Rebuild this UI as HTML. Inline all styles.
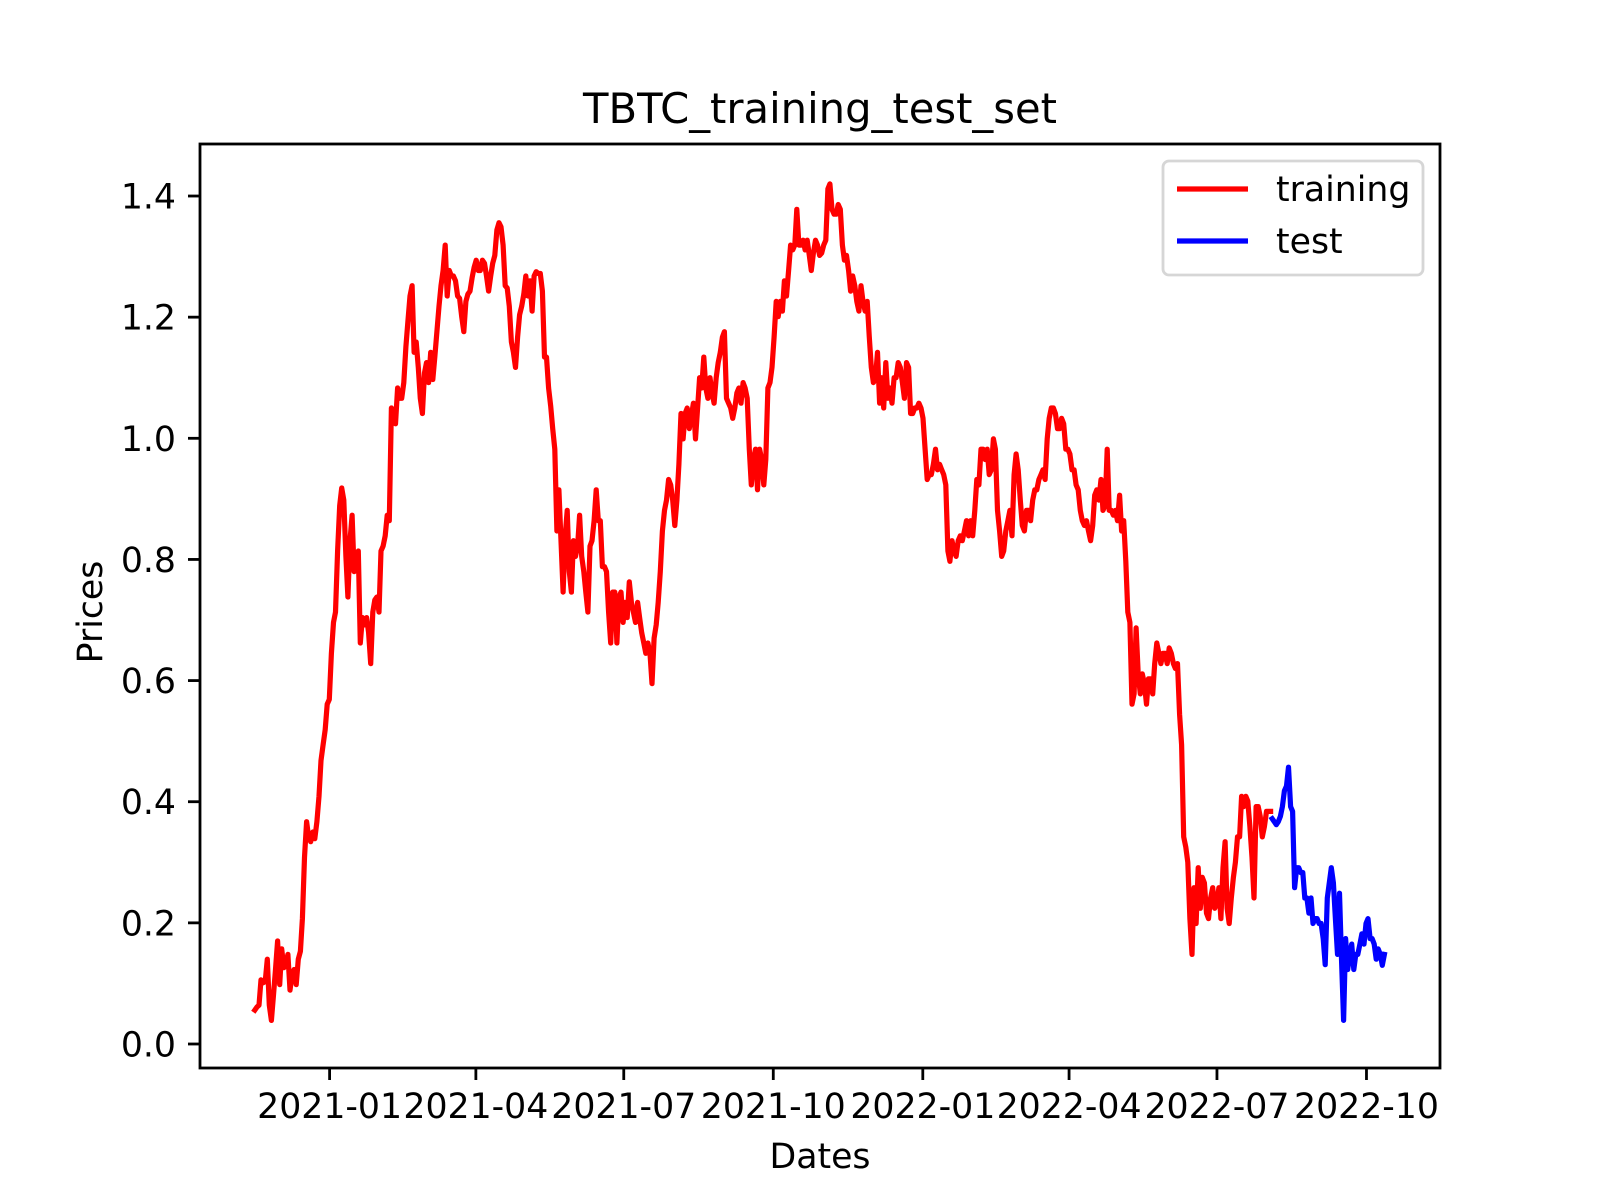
<!DOCTYPE html>
<html><head><meta charset="utf-8"><style>
html,body{margin:0;padding:0;background:#fff;}
svg{display:block;font-family:"DejaVu Sans","Liberation Sans",sans-serif;}
</style></head><body>
<svg id="chart" width="1600" height="1200" viewBox="0 0 1600 1200" xmlns="http://www.w3.org/2000/svg">
<rect width="1600" height="1200" fill="#fff"/>
<text x="820" y="123" font-size="41.7" text-anchor="middle">TBTC_training_test_set</text>
<text x="820" y="1168" font-size="34.7" text-anchor="middle">Dates</text>
<text x="0" y="0" font-size="34.7" text-anchor="middle" transform="translate(102,612) rotate(-90)">Prices</text>
<g id="plot"></g>
<rect x="200" y="144" width="1240" height="924" fill="none" stroke="#000" stroke-width="2.8"/>
<g id="legend">
<rect x="1163" y="161" width="260" height="114" rx="6" fill="#fff" fill-opacity="0.8" stroke="#d6d6d6" stroke-width="2.8"/>
<line x1="1177" y1="189" x2="1248" y2="189" stroke="#ff0000" stroke-width="5.2"/>
<text x="1276" y="201" font-size="34.7">training</text>
<line x1="1177" y1="241" x2="1248" y2="241" stroke="#0000ff" stroke-width="5.2"/>
<text x="1276" y="253" font-size="34.7">test</text>
</g>
</svg>
<script>
const trainStart = "2020-11-16";
const trainEnd = "2022-08-03";
const testStart = "2022-08-04";
const testEnd = "2022-10-12";
const trainValues = [
.056,.061,.064,.106,.101,.103,.140,.064,.039,.081,.123,.170,.098,.157,.126,.131,.148,.089,.115,.123,.098,.140,.153,.207,.308,.367,.342,.334,.350,.339,.367,.409,.468,.494,.519,.561,.569,.645,.696,.713,.814,.889,.918,.898,.805,.738,.831,.873,.780,.797,.814,.662,.704,.692,.704,.679,.628,.713,.733,.738,.713,.814,.822,.839,.873,.864,1.050,1.033,1.024,1.083,1.066,1.066,1.092,1.151,1.193,1.235,1.252,
1.142,1.159,1.117,1.066,1.041,1.108,1.125,1.092,1.142,1.097,1.134,1.176,1.218,1.252,1.277,1.319,1.235,1.277,1.268,1.268,1.260,1.235,1.231,1.201,1.176,1.226,1.238,1.243,1.265,1.282,1.294,1.277,1.277,1.294,1.289,1.268,1.243,1.268,1.289,1.302,1.344,1.356,1.349,1.319,1.252,1.248,1.218,1.159,1.142,1.117,1.167,1.204,1.218,1.238,1.268,1.235,1.260,1.210,1.268,1.275,1.272,1.272,1.243,1.134,1.134,1.083,1.053,1.016,
.982,.847,.915,.831,.746,.839,.881,.780,.746,.831,.805,.822,.873,.805,.780,.746,.713,.822,.831,.864,.915,.864,.864,.788,.788,.780,.713,.662,.746,.746,.662,.738,.746,.696,.729,.704,.763,.729,.713,.696,.729,.704,.679,.662,.645,.662,.645,.595,.670,.692,.729,.780,.847,.881,.898,.932,.923,.898,.856,.898,.957,1.041,.999,1.041,1.050,1.016,1.036,1.058,.999,1.050,1.100,1.083,1.134,1.083,1.066,1.100,1.075,1.058,1.100,1.125,1.142,1.167,1.176,1.066,1.058,1.050,1.033,1.050,1.075,1.083,1.058,1.092,1.083,1.066,.982,.923,.965,.982,.915,.982,.965,.923,.965,1.083,1.092,1.117,1.167,1.226,1.201,1.226,1.210,1.260,1.235,1.277,1.319,1.311,1.319,1.378,1.319,1.319,1.327,1.311,1.327,1.302,1.277,1.306,1.327,1.319,1.302,1.306,1.319,1.327,1.412,1.420,1.378,1.370,1.370,1.386,1.378,1.319,1.294,1.302,1.277,1.243,1.268,1.252,1.226,1.210,1.252,1.226,1.210,1.226,1.167,1.117,1.092,1.100,1.142,1.058,1.100,1.050,1.125,1.066,1.083,1.058,1.100,1.100,1.125,1.117,1.092,1.066,1.125,1.117,1.041,1.041,1.050,1.050,1.058,1.050,1.033,.982,.932,.940,.940,.957,.982,.948,.957,.948,.940,.923,.814,.797,.831,.814,.805,.831,.839,.831,.847,.864,.839,.864,.839,.881,.932,.923,.982,.982,.965,.982,.940,.948,.999,.982,.881,.847,.805,.814,.847,.864,.881,.839,.940,.974,.948,.898,.856,.847,.881,.881,.864,.898,.915,.915,.932,.940,.948,.932,.999,1.033,1.050,1.050,1.041,1.016,1.016,1.033,1.024,.982,.982,.974,.948,.948,.923,.915,.881,.864,.856,.864,.847,.831,.856,.906,.915,.898,.932,.881,.889,.982,.881,.881,.873,.881,.864,.906,.847,.864,.797,.713,.696,.561,.578,.687,.611,.578,.611,.595,.561,.603,.603,.578,.628,.662,.645,.628,.645,.645,.628,.654,.645,.628,.620,.628,.544,.494,.342,.325,.300,.207,.148,.258,.199,.291,.224,.275,.266,.216,.207,.241,.258,.224,.232,.258,.207,.291,.334,.224,.199,.241,.275,.300,.342,.342,.409,.392,.409,.401,.359,.308,.241,.392,.392,.376,.342,.359,.384,.384,.384
];
const testValues = [
.372,.367,.362,.367,.376,.392,.418,.426,.457,.392,.384,.258,.291,.291,.283,.283,.241,.241,.216,.241,.199,.207,.207,.199,.199,.174,.131,.241,.266,.291,.266,.207,.148,.249,.140,.039,.174,.123,.148,.165,.123,.148,.148,.165,.182,.165,.199,.207,.174,.174,.165,.140,.157,.148,.130,.148
];
const xTickLabels = ["2021-01","2021-04","2021-07","2021-10","2022-01","2022-04","2022-07","2022-10"];
const yTickValues = [0.0,0.2,0.4,0.6,0.8,1.0,1.2,1.4];

const NS = "http://www.w3.org/2000/svg";
const DAY = 86400000;
const origin = Date.UTC(2021,0,1);
function toDay(s){const p=s.split("-").map(Number);return (Date.UTC(p[0],p[1]-1,p[2]||1)-origin)/DAY;}
function xScale(day){return 329.6 + day*1.6252;}
function yScale(v){return 1044 - v*605.7;}
const plot = document.getElementById("plot");
const svg = document.getElementById("chart");

function drawSeries(values,start,end,color,name){
  const d0=toDay(start), d1=toDay(end);
  const step=(d1-d0)/(values.length-1);
  const pts=values.map((v,i)=>xScale(d0+i*step).toFixed(1)+","+yScale(v).toFixed(1)).join(" ");
  const pl=document.createElementNS(NS,"polyline");
  pl.setAttribute("points",pts);
  pl.setAttribute("fill","none");
  pl.setAttribute("stroke",color);
  pl.setAttribute("stroke-width","5.2");
  pl.setAttribute("stroke-linejoin","round");
  pl.setAttribute("stroke-linecap","square");
  
  
  plot.appendChild(pl);
}
drawSeries(trainValues,trainStart,trainEnd,"#ff0000","training-line");
drawSeries(testValues,testStart,testEnd,"#0000ff","test-line");

yTickValues.forEach(v=>{
  const y=yScale(v);
  const t=document.createElementNS(NS,"line");
  t.setAttribute("x1",188);t.setAttribute("x2",200);t.setAttribute("y1",y);t.setAttribute("y2",y);
  t.setAttribute("stroke","#000");t.setAttribute("stroke-width","2.8");
  
  
  svg.appendChild(t);
  const l=document.createElementNS(NS,"text");
  l.setAttribute("x",176);l.setAttribute("y",y+12.5);
  l.setAttribute("text-anchor","end");l.setAttribute("font-size","34.7");
  l.textContent=v.toFixed(1);
  
  
  svg.appendChild(l);
});
xTickLabels.forEach(s=>{
  const x=xScale(toDay(s));
  const t=document.createElementNS(NS,"line");
  t.setAttribute("x1",x);t.setAttribute("x2",x);t.setAttribute("y1",1068);t.setAttribute("y2",1080);
  t.setAttribute("stroke","#000");t.setAttribute("stroke-width","2.8");
  
  
  svg.appendChild(t);
  const l=document.createElementNS(NS,"text");
  l.setAttribute("x",x);l.setAttribute("y",1118);
  l.setAttribute("text-anchor","middle");l.setAttribute("font-size","34.7");
  l.textContent=s;
  
  
  svg.appendChild(l);
});
</script>
</body></html>
